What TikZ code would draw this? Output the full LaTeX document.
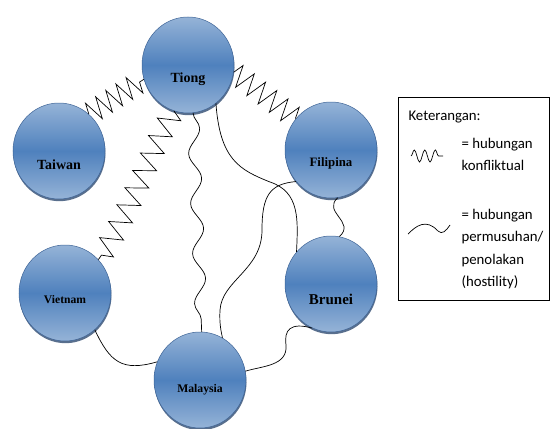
\documentclass[tikz,border=0pt]{standalone}
\usepackage{fontspec}
\setmainfont{Liberation Serif}
\newfontfamily\legendfont{Carlito}
\usetikzlibrary{shapes.geometric,decorations.pathmorphing,shadows}

\definecolor{balllight}{RGB}{149,179,215}
\definecolor{balldark}{RGB}{79,129,189}
\definecolor{ballrim}{RGB}{62,100,150}

\tikzset{
  country/.style={ellipse, minimum width=92pt, minimum height=96pt, inner sep=0pt,
    top color=balllight, bottom color=balllight, middle color=balldark,
    draw=ballrim, line width=0.5pt,
    drop shadow={shadow xshift=0.5pt, shadow yshift=-2.2pt, opacity=0.8, fill=ballrim!75!black}},
  konflik/.style={line width=0.7pt, decorate, decoration={zigzag, segment length=#1, amplitude=11pt}},
  konflik/.default=13pt,
  musuh/.style={line width=0.7pt},
  ombak/.style={line width=0.7pt, decorate, decoration={snake, segment length=#1, amplitude=6pt}},
  ombak/.default=50pt,
  keterangan/.style={font=\legendfont\fontsize{14.8}{22.5}\selectfont}
}

\begin{document}
\begin{tikzpicture}[x=1pt, y=-1pt]
\useasboundingbox (0,0) rectangle (551,428);

% Countries
\node[country, label={[font=\bfseries\fontsize{14}{14}\selectfont, yshift=-14pt]center:Tiong}] (tiong) at (188,65) {};
\node[country, label={[font=\bfseries\fontsize{14}{14}\selectfont, yshift=-14pt]center:Taiwan}] (taiwan) at (59,151) {};
\node[country, label={[font=\bfseries\fontsize{12.8}{13}\selectfont, yshift=-13pt]center:Filipina}] (filipina) at (331,150) {};
\node[country, label={[font=\bfseries\fontsize{15}{15}\selectfont, yshift=-15pt]center:Brunei}] (brunei) at (331,284) {};
\node[country, label={[font=\bfseries\fontsize{11.6}{12}\selectfont, yshift=-7pt]center:Vietnam}] (vietnam) at (65,293) {};
\node[country, label={[font=\bfseries\fontsize{11.7}{12}\selectfont, yshift=-10pt]center:Malaysia}] (malaysia) at (200,380) {};

% Conflicts
\draw[konflik=12pt] (taiwan.51) -- (tiong.198);
\draw[konflik=14pt] (tiong.351) -- (filipina.138);
\draw[konflik=19pt] (tiong.253) .. controls (150,150) and (130,215) .. (vietnam.45);

% Hostility
\draw[ombak] (tiong.276) -- (malaysia.88);
\draw[musuh] (tiong.306) .. controls (220,160) and (240,170) .. (270,182) .. controls (300,192) and (298,220) .. (brunei.137);
\draw[musuh] (filipina.222) .. controls (270,184) and (262,195) .. (262,230) .. controls (262,270) and (222,280) .. (220,310) .. controls (219,325) and (222,335) .. (malaysia.62);
\draw[musuh] (filipina.278) .. controls (322,212) and (356,222) .. (brunei.80);
\draw[musuh] (vietnam.309) .. controls (110,362) and (122,372) .. (malaysia.157);
\draw[musuh] (brunei.247) .. controls (290,322) and (284,330) .. (286,345) .. controls (288,366) and (262,366) .. (malaysia.11);

% Legend
\node[draw, line width=0.6pt, minimum width=151pt, minimum height=203pt, inner sep=0pt] (legend) at (473.5,198.5) {};
\node[anchor=west, keterangan] (ket) at (405,117) {Keterangan:};
\coordinate (zzA) at (411,156);
\coordinate (zzB) at (443,156);
\draw[line width=0.7pt, decorate, decoration={snake, segment length=10.5pt, amplitude=6pt}] (zzA) -- (zzB);
\node[anchor=west, align=left, keterangan] (kon) at (458,154.5) {= hubungan\\konfliktual};
\coordinate (wvA) at (408,234);
\coordinate (wvB) at (450,225);
\draw[musuh] (wvA) .. controls (416,226) and (426,218) .. (438,231) .. controls (442,235) and (446,231) .. (wvB);
\node[anchor=west, align=left, keterangan] (mus) at (458,249) {= hubungan\\permusuhan/\\penolakan\\(hostility)};
\end{tikzpicture}
\end{document}
